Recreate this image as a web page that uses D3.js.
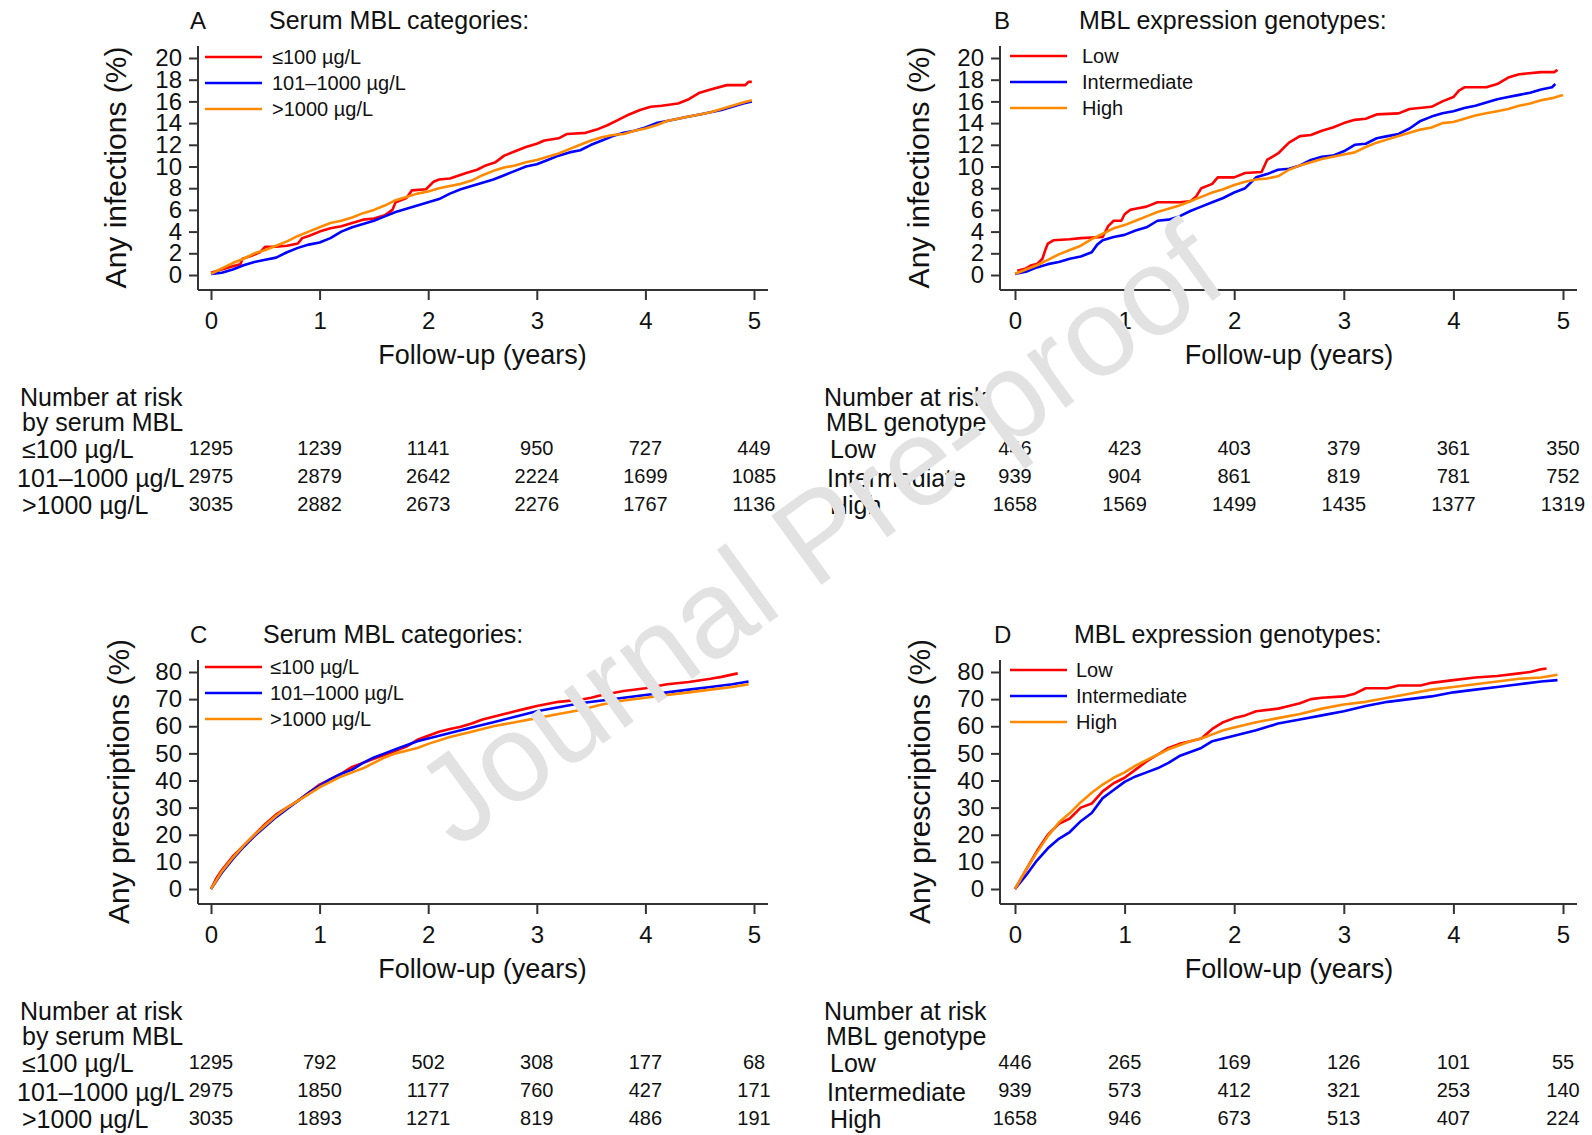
<!DOCTYPE html>
<html lang="en">
<head>
<meta charset="UTF-8">
<title>MBL cumulative incidence</title>
<script src="https://d3js.org/d3.v7.min.js"></script>
<style>
  body { margin: 0; background: #fff; }
  text { font-family: "Liberation Sans", Arial, sans-serif; fill: #111; }
</style>
</head>
<body>
<svg width="1592" height="1135"></svg>
<script>
// ---- data ----
const years = [0, 1, 2, 3, 4, 5];
const serumLabels = ["≤100 µg/L", "101–1000 µg/L", ">1000 µg/L"];
const genoLabels = ["Low", "Intermediate", "High"];
const infTicks = [0, 2, 4, 6, 8, 10, 12, 14, 16, 18, 20];
const rxTicks = [0, 10, 20, 30, 40, 50, 60, 70, 80];
const seriesColors = ["#ff0000", "#0000ff", "#ff8a00"];

// A: any infections by serum MBL
const infSerumLow = [[0,0.2],[0.1,0.5],[0.2,0.8],[0.27,1.0],[0.29,1.5],[0.38,1.8],[0.45,2.1],[0.5,2.6],[0.6,2.6],[0.7,2.7],[0.8,2.9],[0.84,3.4],[0.9,3.6],[1.0,4.0],[1.1,4.3],[1.2,4.5],[1.3,4.8],[1.4,5.1],[1.5,5.2],[1.6,5.5],[1.67,6.0],[1.7,6.7],[1.8,7.1],[1.85,7.8],[1.98,7.9],[2.05,8.6],[2.1,8.8],[2.2,8.9],[2.35,9.4],[2.45,9.7],[2.53,10.1],[2.62,10.4],[2.7,11.0],[2.8,11.4],[2.9,11.8],[3.0,12.1],[3.07,12.4],[3.2,12.6],[3.28,13.0],[3.45,13.1],[3.55,13.4],[3.65,13.8],[3.75,14.3],[3.85,14.8],[3.95,15.2],[4.05,15.5],[4.15,15.6],[4.3,15.8],[4.4,16.2],[4.5,16.8],[4.6,17.1],[4.75,17.5],[4.92,17.5],[4.95,17.8],[4.98,17.8]];
const infSerumMid = [[0,0.1],[0.1,0.2],[0.2,0.5],[0.3,0.9],[0.4,1.2],[0.5,1.4],[0.6,1.6],[0.7,2.1],[0.8,2.5],[0.9,2.8],[1.0,3.0],[1.1,3.4],[1.2,4.0],[1.3,4.4],[1.4,4.7],[1.5,5.0],[1.6,5.4],[1.7,5.8],[1.8,6.1],[1.9,6.4],[2.0,6.7],[2.1,7.0],[2.2,7.5],[2.3,7.9],[2.4,8.2],[2.5,8.5],[2.6,8.8],[2.7,9.2],[2.8,9.6],[2.9,10.0],[3.0,10.2],[3.1,10.6],[3.2,11.0],[3.3,11.3],[3.4,11.5],[3.5,12.0],[3.6,12.4],[3.7,12.8],[3.8,13.1],[3.9,13.3],[4.0,13.6],[4.1,14.0],[4.2,14.2],[4.3,14.4],[4.4,14.6],[4.5,14.8],[4.6,15.0],[4.7,15.2],[4.8,15.5],[4.9,15.8],[4.98,16.0]];
const infSerumHigh = [[0,0.1],[0.1,0.6],[0.2,1.1],[0.3,1.5],[0.4,2.0],[0.5,2.3],[0.6,2.7],[0.7,3.1],[0.8,3.6],[0.9,4.0],[1.0,4.4],[1.1,4.8],[1.2,5.0],[1.3,5.3],[1.4,5.7],[1.5,6.0],[1.6,6.4],[1.7,6.9],[1.8,7.2],[1.9,7.5],[2.0,7.7],[2.1,8.0],[2.2,8.2],[2.3,8.4],[2.4,8.7],[2.5,9.2],[2.6,9.6],[2.7,9.9],[2.8,10.1],[2.9,10.4],[3.0,10.6],[3.1,10.9],[3.2,11.2],[3.3,11.6],[3.4,12.0],[3.5,12.4],[3.6,12.7],[3.7,12.9],[3.8,13.0],[3.9,13.3],[4.0,13.5],[4.1,13.8],[4.2,14.2],[4.3,14.4],[4.4,14.6],[4.5,14.8],[4.6,15.0],[4.7,15.3],[4.8,15.6],[4.9,15.9],[4.98,16.1]];

// B: any infections by genotype
const infGenoLow = [[0.02,0.4],[0.1,0.6],[0.15,0.9],[0.2,1.0],[0.25,1.5],[0.28,2.4],[0.3,2.9],[0.35,3.2],[0.5,3.3],[0.6,3.4],[0.8,3.5],[0.85,4.5],[0.9,5.0],[0.97,5.0],[1.0,5.6],[1.05,6.0],[1.1,6.1],[1.2,6.3],[1.3,6.7],[1.5,6.7],[1.6,6.8],[1.65,7.2],[1.7,8.0],[1.8,8.4],[1.85,9.0],[2.0,9.0],[2.1,9.4],[2.25,9.5],[2.3,10.6],[2.4,11.2],[2.5,12.2],[2.6,12.8],[2.7,12.9],[2.8,13.3],[2.9,13.6],[3.0,14.0],[3.1,14.3],[3.2,14.4],[3.3,14.8],[3.5,14.9],[3.6,15.3],[3.8,15.5],[3.9,16.0],[4.0,16.4],[4.05,17.0],[4.1,17.3],[4.3,17.3],[4.4,17.6],[4.5,18.2],[4.6,18.5],[4.8,18.7],[4.92,18.7],[4.95,18.9]];
const infGenoMid = [[0,0.1],[0.1,0.3],[0.2,0.7],[0.3,1.0],[0.4,1.2],[0.5,1.5],[0.6,1.7],[0.7,2.1],[0.75,2.8],[0.8,3.2],[0.9,3.5],[1.0,3.7],[1.1,4.1],[1.2,4.4],[1.3,5.0],[1.4,5.1],[1.5,5.4],[1.6,5.9],[1.7,6.3],[1.8,6.7],[1.9,7.1],[2.0,7.6],[2.1,8.0],[2.2,9.0],[2.3,9.3],[2.4,9.7],[2.5,9.8],[2.6,10.1],[2.7,10.6],[2.8,10.9],[2.9,11.0],[3.0,11.4],[3.1,12.0],[3.2,12.1],[3.3,12.6],[3.4,12.8],[3.5,13.0],[3.6,13.5],[3.7,14.2],[3.8,14.6],[3.9,14.9],[4.0,15.1],[4.1,15.4],[4.2,15.6],[4.3,15.9],[4.4,16.2],[4.5,16.4],[4.6,16.6],[4.7,16.8],[4.8,17.1],[4.9,17.3],[4.93,17.6]];
const infGenoHigh = [[0,0.1],[0.1,0.5],[0.2,0.9],[0.3,1.4],[0.4,1.9],[0.5,2.3],[0.6,2.7],[0.7,3.3],[0.8,3.8],[0.9,4.3],[1.0,4.6],[1.1,5.0],[1.2,5.4],[1.3,5.8],[1.4,6.1],[1.5,6.4],[1.6,6.8],[1.7,7.2],[1.8,7.6],[1.9,7.9],[2.0,8.3],[2.1,8.6],[2.2,8.8],[2.3,8.9],[2.4,9.1],[2.5,9.7],[2.6,10.1],[2.7,10.4],[2.8,10.7],[2.9,10.9],[3.0,11.1],[3.1,11.3],[3.2,11.8],[3.3,12.2],[3.4,12.5],[3.5,12.8],[3.6,13.1],[3.7,13.4],[3.8,13.6],[3.9,14.0],[4.0,14.1],[4.1,14.4],[4.2,14.7],[4.3,14.9],[4.4,15.1],[4.5,15.3],[4.6,15.6],[4.7,15.8],[4.8,16.1],[4.9,16.3],[5.0,16.6]];

// C: any prescriptions by serum MBL
const rxSerumLow = [[0,0],[0.05,4],[0.1,7],[0.2,12],[0.3,16],[0.4,20],[0.5,24],[0.6,27.5],[0.7,30],[0.8,32.5],[0.9,35.5],[1.0,38.5],[1.1,40.5],[1.2,42.5],[1.3,45],[1.4,46.5],[1.5,48],[1.6,49.5],[1.7,51],[1.8,52.5],[1.9,55],[2.0,56.5],[2.1,58],[2.2,59],[2.3,59.8],[2.4,61],[2.5,62.5],[2.6,63.5],[2.7,64.5],[2.8,65.5],[2.9,66.5],[3.0,67.5],[3.2,69],[3.4,69.8],[3.5,70.5],[3.6,71.5],[3.8,73],[4.0,74],[4.2,75.5],[4.4,76.3],[4.6,77.5],[4.7,78.2],[4.85,79.5]];
const rxSerumMid = [[0,0],[0.1,6],[0.2,11],[0.3,15.5],[0.4,19.5],[0.5,23],[0.6,26.5],[0.7,29.5],[0.8,32.5],[0.9,35.5],[1.0,38],[1.1,40.5],[1.2,42.5],[1.3,44],[1.4,46.5],[1.5,48.5],[1.6,50],[1.7,51.5],[1.8,53],[1.9,54.5],[2.0,55.5],[2.2,57.5],[2.4,59.5],[2.6,61.5],[2.8,63.5],[3.0,65.5],[3.2,67],[3.4,68.5],[3.6,69.5],[3.8,70.5],[4.0,71.5],[4.2,72.5],[4.4,73.5],[4.6,74.5],[4.8,75.5],[4.95,76.5]];
const rxSerumHigh = [[0,0],[0.1,6.5],[0.2,11.5],[0.3,16],[0.4,20],[0.5,23.5],[0.6,27],[0.7,30],[0.8,32.5],[0.9,35],[1.0,37.5],[1.1,39.5],[1.2,41.5],[1.3,43],[1.4,44.5],[1.5,46.5],[1.6,48.5],[1.7,50],[1.8,51],[1.9,52],[2.0,53.5],[2.2,56],[2.4,58],[2.6,60],[2.8,61.5],[3.0,63],[3.2,64.5],[3.4,66],[3.6,68],[3.8,69.5],[4.0,70.5],[4.2,71.5],[4.4,72.5],[4.6,73.5],[4.8,74.5],[4.95,75.5]];

// D: any prescriptions by genotype
const rxGenoLow = [[0,0],[0.1,7],[0.2,14],[0.3,20],[0.4,24],[0.5,26],[0.6,30],[0.7,31.5],[0.8,36],[0.9,39],[1.0,41],[1.1,44],[1.2,47],[1.3,49.5],[1.4,52],[1.5,53.5],[1.6,54.5],[1.7,55.5],[1.8,59],[1.9,61.5],[2.0,63],[2.1,64],[2.2,65.5],[2.4,66.5],[2.5,67.5],[2.6,68.5],[2.7,70],[2.8,70.5],[3.0,71],[3.1,72],[3.2,74],[3.4,74],[3.5,75],[3.7,75],[3.8,76],[4.0,77],[4.2,78],[4.4,78.5],[4.6,79.5],[4.7,80],[4.8,81],[4.85,81.3]];
const rxGenoMid = [[0,0],[0.1,5],[0.2,10.5],[0.3,15],[0.4,18.5],[0.5,21],[0.6,25],[0.7,28],[0.8,33.5],[0.9,36.5],[1.0,39.5],[1.1,41.5],[1.2,43],[1.3,44.5],[1.4,46.5],[1.5,49],[1.6,50.5],[1.7,52],[1.8,54.5],[1.9,55.5],[2.0,56.5],[2.2,58.5],[2.4,61],[2.6,62.5],[2.8,64],[3.0,65.5],[3.2,67.5],[3.4,69],[3.6,70],[3.8,71],[4.0,72.5],[4.2,73.5],[4.4,74.5],[4.6,75.5],[4.8,76.5],[4.95,77]];
const rxGenoHigh = [[0,0],[0.1,7],[0.2,13.5],[0.3,19.5],[0.4,24.5],[0.5,28],[0.6,32],[0.7,35.5],[0.8,38.5],[0.9,41],[1.0,43],[1.1,45.5],[1.2,47.5],[1.3,49.5],[1.4,51.5],[1.5,53],[1.6,54.5],[1.7,55.5],[1.8,57],[1.9,58.5],[2.0,59.5],[2.2,61.5],[2.4,63],[2.6,64.5],[2.8,66.5],[3.0,68],[3.2,69],[3.4,70.5],[3.6,72],[3.8,73.5],[4.0,74.5],[4.2,75.5],[4.4,76.5],[4.6,77.5],[4.8,78],[4.95,79]];

// numbers at risk
const riskInfSerumLow = [1295, 1239, 1141, 950, 727, 449];
const riskInfSerumMid = [2975, 2879, 2642, 2224, 1699, 1085];
const riskInfSerumHigh = [3035, 2882, 2673, 2276, 1767, 1136];
const riskInfGenoLow = [446, 423, 403, 379, 361, 350];
const riskInfGenoMid = [939, 904, 861, 819, 781, 752];
const riskInfGenoHigh = [1658, 1569, 1499, 1435, 1377, 1319];
const riskRxSerumLow = [1295, 792, 502, 308, 177, 68];
const riskRxSerumMid = [2975, 1850, 1177, 760, 427, 171];
const riskRxSerumHigh = [3035, 1893, 1271, 819, 486, 191];
const riskRxGenoLow = [446, 265, 169, 126, 101, 55];
const riskRxGenoMid = [939, 573, 412, 321, 253, 140];
const riskRxGenoHigh = [1658, 946, 673, 513, 407, 224];

// ---- drawing ----
const svg = d3.select("svg");
const FONT = '"Liberation Sans", Arial, sans-serif';

const panels = [
  { letter: "A", title: "Serum MBL categories:", ytitle: "Any infections (%)", yMax: 20, yTicks: infTicks,
    series: [infSerumLow, infSerumMid, infSerumHigh], labels: serumLabels,
    risk: [riskInfSerumLow, riskInfSerumMid, riskInfSerumHigh], riskHead: ["Number at risk", "by serum MBL"],
    left: 198, x0: 211, x5: 754, xEnd: 768, dy: 0, legDy: 0,
    letterX: 190, titleX: 269, legX: 205, legTextX: 272, yTitleX: 126,
    tableX: 20, rowX: [22, 17, 22] },
  { letter: "B", title: "MBL expression genotypes:", ytitle: "Any infections (%)", yMax: 20, yTicks: infTicks,
    series: [infGenoLow, infGenoMid, infGenoHigh], labels: genoLabels,
    risk: [riskInfGenoLow, riskInfGenoMid, riskInfGenoHigh], riskHead: ["Number at risk", "MBL genotype"],
    left: 1000, x0: 1015, x5: 1563, xEnd: 1577, dy: 0, legDy: -1,
    letterX: 994, titleX: 1079, legX: 1010, legTextX: 1082, yTitleX: 929,
    tableX: 824, rowX: [830, 827, 830] },
  { letter: "C", title: "Serum MBL categories:", ytitle: "Any prescriptions (%)", yMax: 80, yTicks: rxTicks,
    series: [rxSerumLow, rxSerumMid, rxSerumHigh], labels: serumLabels,
    risk: [riskRxSerumLow, riskRxSerumMid, riskRxSerumHigh], riskHead: ["Number at risk", "by serum MBL"],
    left: 198, x0: 211, x5: 754, xEnd: 768, dy: 614, legDy: -4,
    letterX: 190, titleX: 263, legX: 205, legTextX: 270, yTitleX: 129,
    tableX: 20, rowX: [22, 17, 22] },
  { letter: "D", title: "MBL expression genotypes:", ytitle: "Any prescriptions (%)", yMax: 80, yTicks: rxTicks,
    series: [rxGenoLow, rxGenoMid, rxGenoHigh], labels: genoLabels,
    risk: [riskRxGenoLow, riskRxGenoMid, riskRxGenoHigh], riskHead: ["Number at risk", "MBL genotype"],
    left: 1000, x0: 1015, x5: 1563, xEnd: 1577, dy: 614, legDy: -1,
    letterX: 994, titleX: 1074, legX: 1010, legTextX: 1076, yTitleX: 930,
    tableX: 824, rowX: [830, 827, 830] }
];

const axisColor = "#333";

panels.forEach(p => {
  const g = svg.append("g").attr("transform", `translate(0,${p.dy})`);
  const x = d3.scaleLinear().domain([0, 5]).range([p.x0, p.x5]);
  const y = d3.scaleLinear().domain([0, p.yMax]).range([275, 58]);
  const axisY = 290;

  // panel letter + title
  g.append("text").attr("x", p.letterX).attr("y", 29).attr("font-size", 24).text(p.letter);
  g.append("text").attr("x", p.titleX).attr("y", 29).attr("font-size", 25).text(p.title);

  // y axis
  const yAxis = g.append("g").attr("transform", `translate(${p.left},0)`)
    .call(d3.axisLeft(y).tickValues(p.yTicks).tickSize(9).tickPadding(7).tickSizeOuter(0));
  yAxis.select(".domain").remove();
  g.append("line").attr("x1", p.left).attr("x2", p.left).attr("y1", 46).attr("y2", axisY)
    .attr("stroke", axisColor).attr("stroke-width", 2);
  yAxis.selectAll(".tick line").attr("stroke", axisColor).attr("stroke-width", 2);
  yAxis.selectAll(".tick text").attr("font-size", 24).attr("font-family", FONT).attr("fill", "#111");

  // x axis
  const xAxis = g.append("g").attr("transform", `translate(0,${axisY})`)
    .call(d3.axisBottom(x).tickValues(years).tickFormat(d3.format("d")).tickSize(10).tickPadding(12).tickSizeOuter(0));
  xAxis.select(".domain").remove();
  g.append("line").attr("x1", p.left).attr("x2", p.xEnd).attr("y1", axisY).attr("y2", axisY)
    .attr("stroke", axisColor).attr("stroke-width", 2);
  xAxis.selectAll(".tick line").attr("stroke", axisColor).attr("stroke-width", 2);
  xAxis.selectAll(".tick text").attr("font-size", 24).attr("font-family", FONT).attr("fill", "#111");

  // axis titles
  g.append("text").attr("x", (p.x0 + p.x5) / 2).attr("y", 364).attr("text-anchor", "middle")
    .attr("font-size", 27).text("Follow-up (years)");
  g.append("text").attr("transform", `translate(${p.yTitleX},${(y(0) + y(p.yMax)) / 2 + 1}) rotate(-90)`)
    .attr("text-anchor", "middle").attr("font-size", 30).text(p.ytitle);

  // curves
  const line = d3.line().x(d => x(d[0])).y(d => y(d[1]));
  p.series.forEach((s, i) => {
    g.append("path").datum(s).attr("d", line).attr("fill", "none")
      .attr("stroke", seriesColors[i]).attr("stroke-width", 2.6).attr("stroke-linejoin", "round");
  });

  // legend
  const legY = [57, 83, 109].map(v => v + p.legDy);
  p.labels.forEach((lab, i) => {
    g.append("line").attr("x1", p.legX).attr("x2", p.legX + 57).attr("y1", legY[i]).attr("y2", legY[i])
      .attr("stroke", seriesColors[i]).attr("stroke-width", 2.6);
    g.append("text").attr("x", p.legTextX).attr("y", legY[i] + 7).attr("font-size", 20).text(lab);
  });

  // number at risk table
  g.append("text").attr("x", p.tableX).attr("y", 406).attr("font-size", 25).text(p.riskHead[0]);
  g.append("text").attr("x", p.tableX + 2).attr("y", 431).attr("font-size", 25).text(p.riskHead[1]);
  const rowBase = [458, 487, 514];
  const numBase = [455, 483, 511];
  p.labels.forEach((lab, i) => {
    g.append("text").attr("x", p.rowX[i]).attr("y", rowBase[i]).attr("font-size", 25).text(lab);
    g.selectAll(null).data(p.risk[i]).enter().append("text")
      .attr("x", (d, j) => x(years[j])).attr("y", numBase[i])
      .attr("text-anchor", "middle").attr("font-size", 20).text(d => d);
  });
});

// watermark
svg.append("text")
  .attr("transform", "translate(818,533) rotate(-36)")
  .attr("text-anchor", "middle").attr("y", 44)
  .attr("font-size", 124).style("fill", "#e2e2e2")
  .text("Journal Pre-proof");
</script>
</body>
</html>
